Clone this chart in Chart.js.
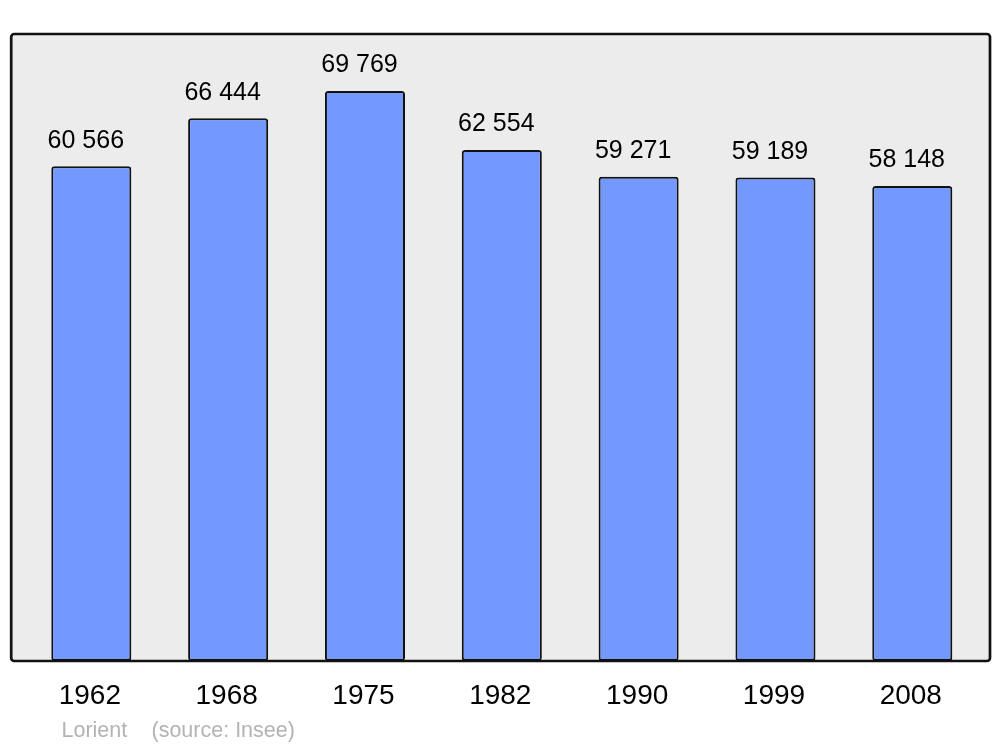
<!DOCTYPE html>
<html>
<head>
<meta charset="utf-8">
<script src="https://cdn.jsdelivr.net/npm/chart.js@4"></script>
<style>
html,body{margin:0;padding:0;background:#fff;}
#wrap{width:1000px;height:747px;position:relative;}
</style>
</head>
<body>
<div id="wrap"><canvas id="c" width="1000" height="747"></canvas></div>
<script>
const years = ['1962', '1968', '1975', '1982', '1990', '1999', '2008'];
const population = [60566, 66444, 69769, 62554, 59271, 59189, 58148];
const valueLabels = ['60 566', '66 444', '69 769', '62 554', '59 271', '59 189', '58 148'];
const townName = 'Lorient';
const sourceNote = '(source: Insee)';

const FONT = '"Liberation Sans", Arial, sans-serif';

const boxPlugin = {
  id: 'box',
  beforeDatasetsDraw(chart) {
    const ctx = chart.ctx, a = chart.chartArea;
    ctx.save();
    ctx.fillStyle = '#ececec';
    roundRect(ctx, a.left - 11.7, a.top, (a.right + 9.3) - (a.left - 11.7), a.bottom - a.top, 3);
    ctx.fill();
    ctx.restore();
  },
  afterDatasetsDraw(chart) {
    const ctx = chart.ctx, a = chart.chartArea;
    ctx.save();
    ctx.strokeStyle = '#111';
    ctx.lineWidth = 2.7;
    roundRect(ctx, a.left - 11.7, a.top, (a.right + 9.3) - (a.left - 11.7), a.bottom - a.top, 3);
    ctx.stroke();
    // value labels
    const meta = chart.getDatasetMeta(0);
    ctx.fillStyle = '#000';
    ctx.font = '25px ' + FONT;
    ctx.textAlign = 'center';
    ctx.textBaseline = 'middle';
    meta.data.forEach((bar, i) => {
      ctx.fillText(valueLabels[i], bar.x - 5.5, bar.y - 25.5);
    });
    // source line
    ctx.fillStyle = '#b3b3b3';
    ctx.font = '21.5px ' + FONT;
    ctx.textAlign = 'left';
    ctx.textBaseline = 'alphabetic';
    ctx.fillText(townName, 61.5, 737);
    ctx.fillText(sourceNote, 151.5, 737);
    ctx.restore();
  }
};

function roundRect(ctx, x, y, w, h, r) {
  ctx.beginPath();
  ctx.moveTo(x + r, y);
  ctx.lineTo(x + w - r, y);
  ctx.arcTo(x + w, y, x + w, y + r, r);
  ctx.lineTo(x + w, y + h - r);
  ctx.arcTo(x + w, y + h, x + w - r, y + h, r);
  ctx.lineTo(x + r, y + h);
  ctx.arcTo(x, y + h, x, y + h - r, r);
  ctx.lineTo(x, y + r);
  ctx.arcTo(x, y, x + r, y, r);
  ctx.closePath();
}

new Chart(document.getElementById('c'), {
  type: 'bar',
  data: {
    labels: years,
    datasets: [{
      data: population,
      backgroundColor: '#7399ff',
      borderColor: '#111',
      borderWidth: 2,
      borderRadius: 3,
      borderSkipped: false,
      barPercentage: 0.585,
      categoryPercentage: 1
    }]
  },
  plugins: [boxPlugin],
  options: {
    responsive: false,
    animation: false,
    devicePixelRatio: 1,
    layout: { padding: { left: 22.9, right: 19.3, top: 34, bottom: 16.4 } },
    plugins: { legend: { display: false }, tooltip: { enabled: false } },
    scales: {
      x: {
        grid: { display: false, drawTicks: false },
        border: { display: false },
        ticks: {
          color: '#000',
          font: { family: FONT, size: 28 },
          padding: 18,
          labelOffset: -1.5,
          maxRotation: 0
        }
      },
      y: {
        display: false,
        min: 0,
        max: 76758
      }
    }
  }
});
</script>
</body>
</html>
